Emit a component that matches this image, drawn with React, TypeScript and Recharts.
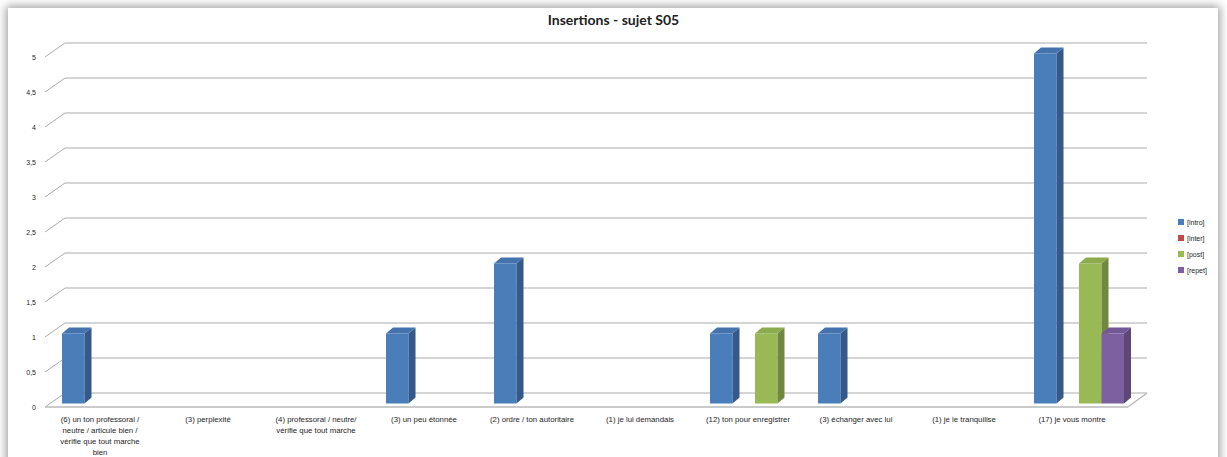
import React from "react";
import {Bar, BarChart, CartesianGrid, Legend, XAxis, YAxis} from "recharts";

const categories = [
  "(6) un ton professoral / neutre / articule bien / vérifie que tout marche bien",
  "(3) perplexité",
  "(4) professoral / neutre/ vérifie que tout marche",
  "(3) un peu étonnée",
  "(2) ordre / ton autoritaire",
  "(1) je lui demandais",
  "(12) ton pour enregistrer",
  "(3) échanger avec lui",
  "(1) je le tranquilise",
  "(17) je vous montre",
];
const intro = [1, 0, 0, 1, 2, 0, 1, 1, 0, 5];
const inter = [0, 0, 0, 0, 0, 0, 0, 0, 0, 0];
const post = [0, 0, 0, 0, 0, 0, 1, 0, 0, 2];
const repet = [0, 0, 0, 0, 0, 0, 0, 0, 0, 1];
const yTicks = [0, 0.5, 1, 1.5, 2, 2.5, 3, 3.5, 4, 4.5, 5];

const series = [
  {key: "intro", name: "[intro]", front: "#4A7EBB", side: "#35598A", top: "#4473AD"},
  {key: "inter", name: "[inter]", front: "#BE4B48", side: "#8C3836", top: "#B04643"},
  {key: "post", name: "[post]", front: "#98B954", side: "#71893F", top: "#8CAA4E"},
  {key: "repet", name: "[repet]", front: "#7D60A0", side: "#5C4776", top: "#725894"},
];

const data = categories.map((c, i) => ({
  name: c,
  intro: intro[i],
  inter: inter[i],
  post: post[i],
  repet: repet[i],
}));

const GRID = "#ababab";
const PLOT_BOTTOM = 407;
const TXT = "#1e1e1e";
const FONT = "'Liberation Sans', Arial, sans-serif";

const wrap = (s: string, max: number) => {
  const words = s.split(" ");
  const lines: string[] = [];
  let cur = "";
  words.forEach((w) => {
    const next = cur ? cur + " " + w : w;
    if (next.length > max && cur) {
      lines.push(cur);
      cur = w;
    } else {
      cur = next;
    }
  });
  if (cur) lines.push(cur);
  return lines;
};

const Bar3D = (props: any) => {
  const {x, y, width, height, colors} = props;
  if (!height || height <= 0) return null;
  const bx = x + 5;
  const by = y - 3.5;
  const dx = 7;
  const dy = 6;
  return (
    <g>
      <rect x={bx} y={by} width={width} height={height} fill={colors.front}/>
      <polygon
        points={`${bx + width},${by} ${bx + width + dx},${by - dy} ${bx + width + dx},${by + height - dy} ${bx + width},${by + height}`}
        fill={colors.side}
      />
      <polygon
        points={`${bx},${by} ${bx + dx},${by - dy} ${bx + width + dx},${by - dy} ${bx + width},${by}`}
        fill={colors.top}
      />
    </g>
  );
};

const XTick = (props: any) => {
  const {x, y, payload} = props;
  const lines = wrap(payload.value, 27);
  return (
    <text x={x - 2} y={y} textAnchor="middle" fontSize={7.8} fill={TXT} fontFamily={FONT}>
      {lines.map((l, i) => (
        <tspan key={i} x={x - 2} dy={i === 0 ? 14.5 : 11}>{l}</tspan>
      ))}
    </text>
  );
};

const YTick = (props: any) => {
  const {y, payload} = props;
  return (
    <text x={36} y={y + 2.5} textAnchor="end" fontSize={7} fill={TXT} fontFamily={FONT}>
      {String(payload.value).replace(".", ",")}
    </text>
  );
};

const gridLine = (p: any) => {
  const {x1, y1, x2} = p;
  const isFloor = Math.abs(y1 - PLOT_BOTTOM) < 1;
  return (
    <g key={`gl-${p.index}-${y1}`}>
      <line x1={x1 - 3} y1={y1} x2={x1 + 17} y2={y1 - 14} stroke={GRID} strokeWidth={1}/>
      <line x1={x1 + 17} y1={y1 - 14} x2={x2 + 19} y2={y1 - 14} stroke={GRID} strokeWidth={1}/>
      {isFloor && (
        <>
          <line x1={x1 - 3} y1={y1} x2={x2} y2={y1} stroke="#b8b8b8" strokeWidth={1.5}/>
          <line x1={x2} y1={y1} x2={x2 + 19} y2={y1 - 14} stroke="#b8b8b8" strokeWidth={1.5}/>
        </>
      )}
    </g>
  );
};

const LegendBox = () => (
  <div style={{fontFamily: FONT, fontSize: 7, color: TXT}}>
    {series.map((s) => (
      <div key={s.key} style={{height: 16, display: "flex", alignItems: "center"}}>
        <span style={{width: 6, height: 6, background: s.front, display: "inline-block", marginRight: 3}}/>
        <span>{s.name}</span>
      </div>
    ))}
  </div>
);

export default function App() {
  return (
    <div style={{position: "absolute", left: 0, top: 0, width: 1227, height: 457, overflow: "hidden"}}>
      <div
        style={{
          position: "absolute",
          left: 8,
          top: 8,
          width: 1210,
          height: 470,
          background: "#fff",
          boxShadow: "0 0 9px 2px rgba(0,0,0,0.38)",
        }}
      />
      <div
        style={{
          position: "absolute",
          left: 0,
          top: 11,
          width: 1227,
          textAlign: "center",
          fontFamily: "Lato, 'Liberation Sans', sans-serif",
          fontWeight: 700,
          fontSize: 14,
          color: "#222",
        }}
      >
        Insertions - sujet S05
      </div>
      <div style={{position: "absolute", left: 0, top: 0}}>
        <BarChart
          width={1227}
          height={457}
          data={data}
          margin={{top: 57, right: 99, bottom: 0, left: 0}}
          barGap={0}
          barSize={22.5}
        >
          <CartesianGrid horizontal={gridLine} vertical={false}/>
          <XAxis
            dataKey="name"
            height={50}
            axisLine={false}
            tickLine={false}
            tickSize={0}
            tickMargin={0}
            interval={0}
            tick={<XTick/>}
          />
          <YAxis
            width={48}
            domain={[0, 5]}
            ticks={yTicks}
            axisLine={false}
            tickLine={false}
            tickSize={0}
            tick={<YTick/>}
          />
          <Legend
            layout="vertical"
            align="center"
            verticalAlign="middle"
            wrapperStyle={{left: 1178, top: 214, width: 45}}
            content={<LegendBox/>}
          />
          {series.map((s) => (
            <Bar
              key={s.key}
              dataKey={s.key}
              name={s.name}
              fill={s.front}
              isAnimationActive={false}
              shape={(p: any) => <Bar3D {...p} colors={s}/>}
            />
          ))}
        </BarChart>
      </div>
    </div>
  );
}
